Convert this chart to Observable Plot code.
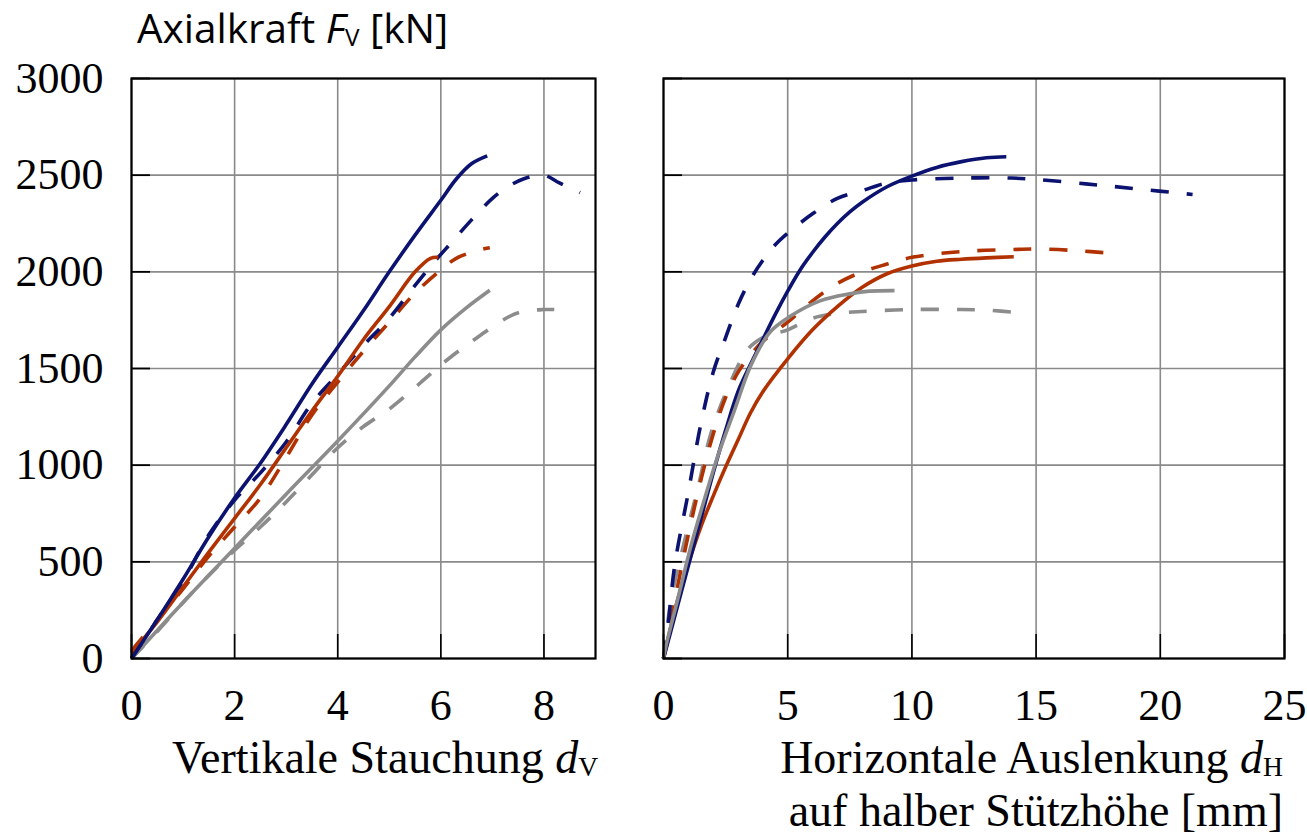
<!DOCTYPE html>
<html>
<head>
<meta charset="utf-8">
<script src="https://cdn.jsdelivr.net/npm/d3@7"></script>
<script src="https://cdn.jsdelivr.net/npm/@observablehq/plot@0.6"></script>
<style>
  html, body { margin: 0; padding: 0; background: #fff; }
  #wrap { position: relative; width: 1307px; height: 837px; overflow: hidden; background: #fff; }
  #wrap svg { position: absolute; top: 0; }
  .t { position: absolute; white-space: nowrap; color: #000; }
  .serif { font-family: "Liberation Serif", "DejaVu Serif", serif; line-height: 51px; font-size: 46px; }
  .sans { font-family: "Open Sans", "Noto Sans", sans-serif; line-height: 1.362; }
  sub { font-size: 0.6em; vertical-align: -0.12em; font-style: normal; line-height: 0; }
</style>
</head>
<body>
<div id="wrap">
  <div class="t sans" id="ytitle" style="left:137px; top:0px; font-size:40.5px;">Axialkraft <i>F</i><sub>V</sub> [kN]</div>
  <div class="t serif" id="xtitleL" style="left:172px; top:732px;">Vertikale Stauchung <i>d</i><sub>V</sub></div>
  <div class="t serif" id="xtitleR1" style="right:24px; top:732px; text-align:right;">Horizontale Auslenkung <i>d</i><sub>H</sub></div>
  <div class="t serif" id="xtitleR2" style="right:24px; top:785px; text-align:right;">auf halber Stützhöhe [mm]</div>
</div>
<script>
// ---------- tick values ----------
const yTicks = [0, 500, 1000, 1500, 2000, 2500, 3000];
const xTicksLeft = [0, 2, 4, 6, 8];
const xTicksRight = [0, 5, 10, 15, 20, 25];
const xDomainLeft = [0, 9];
const xDomainRight = [0, 25];
const yDomain = [0, 3000];

// ---------- left panel: vertical compression d_V [mm] vs. axial force [kN] ----------
const leftBlueSolid = [[0,0],[0.5,200],[1,410],[1.5,630],[2,830],[2.5,1010],[3,1210],[3.5,1420],[4,1610],[4.5,1800],[5,2000],[5.5,2190],[6,2370],[6.3,2480],[6.6,2560],[6.9,2600]];
const leftBlueDashed = [[0,0],[0.5,200],[1,400],[1.5,640],[2,820],[2.5,960],[3,1120],[3.5,1320],[4,1470],[4.5,1620],[5,1760],[5.5,1930],[5.9,2060],[6.2,2150],[6.6,2270],[7,2380],[7.3,2440],[7.6,2480],[8,2500],[8.3,2460],[8.7,2410]];
const leftOrangeSolid = [[0,30],[0.5,190],[1,370],[1.5,550],[2,725],[2.5,900],[3,1090],[3.5,1280],[4,1460],[4.5,1650],[5,1820],[5.5,2000],[5.8,2070],[5.95,2075]];
const leftOrangeDashed = [[0,40],[0.5,200],[1,360],[1.5,530],[2,680],[2.5,830],[3,1040],[3.5,1260],[4,1430],[4.5,1590],[5,1740],[5.5,1890],[6,2010],[6.3,2070],[6.7,2110],[6.95,2125]];
const leftGraySolid = [[0,0],[1,290],[2,570],[3,850],[4,1125],[5,1410],[5.5,1560],[6,1700],[6.5,1815],[6.95,1905]];
const leftGrayDashed = [[0,0],[0.5,140],[1,290],[1.5,430],[2,560],[2.5,680],[3,810],[3.5,950],[4,1090],[4.5,1200],[5,1290],[5.6,1425],[6.1,1540],[6.6,1640],[7.3,1765],[7.6,1795],[8,1805],[8.2,1805]];

// ---------- right panel: horizontal deflection d_H [mm] vs. axial force [kN] ----------
const rightBlueSolid = [[0,0],[0.5,240],[1,480],[1.5,720],[2,960],[2.5,1180],[3,1380],[3.5,1520],[4,1650],[4.5,1780],[5,1900],[5.5,2010],[6,2100],[6.5,2180],[7,2250],[7.5,2310],[8,2360],[9,2440],[10,2495],[11,2540],[12,2570],[13,2590],[13.8,2595]];
const rightBlueDashed = [[0,0],[0.15,130],[0.45,480],[1,860],[1.5,1210],[2,1480],[2.5,1660],[3,1830],[3.5,1960],[4,2060],[4.5,2140],[5,2200],[6,2300],[7,2380],[8,2420],[9,2460],[10,2475],[12,2485],[14,2485],[15,2478],[17,2455],[19,2430],[21.3,2400]];
const rightOrangeSolid = [[0,0],[0.5,270],[1,490],[1.5,680],[2,840],[2.5,990],[3,1130],[3.5,1270],[4,1380],[5,1550],[6,1700],[7,1820],[8,1920],[9,1990],[10,2030],[11,2055],[12,2065],[13,2072],[14.1,2078]];
const rightOrangeDashed = [[0,0],[0.5,330],[1,640],[1.5,920],[2,1160],[2.5,1350],[3,1480],[3.5,1570],[4,1640],[5,1740],[6,1850],[7,1940],[8,2000],[9,2040],[10,2075],[12,2105],[14,2115],[15,2118],[16.6,2110],[18.1,2095]];
const rightGraySolid = [[0,0],[0.1,65],[0.57,305],[1.1,580],[1.64,820],[2.18,1045],[2.86,1285],[3.53,1520],[4.3,1690],[5.1,1770],[6.3,1850],[7.5,1886],[8.3,1900],[9.3,1903]];
const rightGrayDashed = [[0,0],[0.3,300],[0.85,610],[1.4,890],[1.9,1160],[2.6,1400],[3.4,1600],[4,1660],[5,1700],[6,1760],[7,1785],[8,1795],[10,1805],[12,1805],[13,1802],[14.4,1788]];

// ---------- styling ----------
const NAVY = "#0c1270";
const RUST = "#b13200";
const GREY = "#8c8c8c";
const GRID = "#8a8a8a";
const DASH = "18,18";
const LW = 3.6;
const FONT = "Liberation Serif, DejaVu Serif, serif";

function seriesMarks(list) {
  return list.map(([data, color, dashed]) => Plot.line(data, {
    x: d => d[0], y: d => d[1], stroke: color, strokeWidth: LW,
    strokeDasharray: dashed ? DASH : null, curve: "catmull-rom",
    strokeLinecap: "butt", strokeLinejoin: "round"
  }));
}

function panel({width, marginLeft, marginRight, xDomain, xTicks, series, yLabels}) {
  return Plot.plot({
    width, height: 837,
    marginLeft, marginRight, marginTop: 78, marginBottom: 179,
    style: {fontFamily: FONT, fontSize: "44px", color: "#000", background: "transparent", overflow: "visible"},
    x: {domain: xDomain, ticks: xTicks},
    y: {domain: yDomain, ticks: yTicks},
    marks: [
      Plot.gridX(xTicks, {stroke: GRID, strokeOpacity: 1, strokeWidth: 1.6}),
      Plot.gridY(yTicks, {stroke: GRID, strokeOpacity: 1, strokeWidth: 1.6}),
      ...seriesMarks(series),
      Plot.axisX(xTicks, {tickSize: -24, stroke: "#000", strokeWidth: 1.6, tickFormat: () => "", label: null}),
      Plot.axisX(xTicks, {tickSize: 0, tickPadding: 30, fontSize: 44, tickFormat: d => String(d), label: null}),
      Plot.axisY(yTicks, {tickSize: -19, stroke: "#000", strokeWidth: 1.8, tickFormat: () => "", label: null}),
      yLabels ? Plot.axisY(yTicks, {tickSize: 0, tickPadding: 28, fontSize: 44, tickFormat: d => String(d), label: null}) : null,
      Plot.frame({stroke: "#000", strokeWidth: 2.2})
    ]
  });
}

const left = panel({
  width: 620, marginLeft: 131, marginRight: 25,
  xDomain: xDomainLeft, xTicks: xTicksLeft, yLabels: true,
  series: [
    [leftGrayDashed, GREY, true], [leftGraySolid, GREY, false],
    [leftOrangeDashed, RUST, true], [leftBlueDashed, NAVY, true],
    [leftOrangeSolid, RUST, false], [leftBlueSolid, NAVY, false]
  ]
});
left.style.left = "0px";

const right = panel({
  width: 687, marginLeft: 43, marginRight: 23,
  xDomain: xDomainRight, xTicks: xTicksRight, yLabels: false,
  series: [
    [rightGrayDashed, GREY, true], [rightOrangeDashed, RUST, true], [rightBlueDashed, NAVY, true],
    [rightOrangeSolid, RUST, false], [rightBlueSolid, NAVY, false], [rightGraySolid, GREY, false]
  ]
});
right.style.left = "620px";

const wrap = document.getElementById("wrap");
wrap.prepend(right);
wrap.prepend(left);
</script>
</body>
</html>
